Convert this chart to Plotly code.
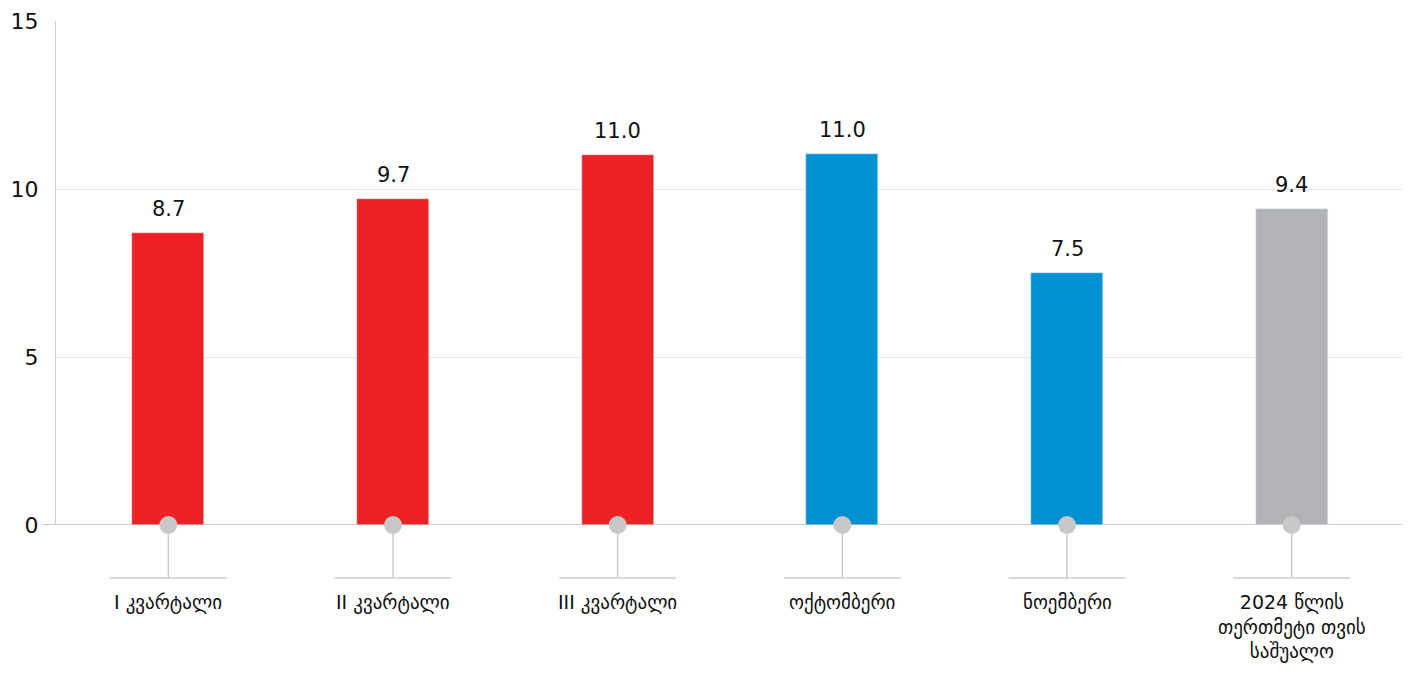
import plotly.graph_objects as go

categories = ["I კვარტალი", "II კვარტალი", "III კვარტალი", "ოქტომბერი", "ნოემბერი",
              "2024 წლის<br>თერთმეტი თვის<br>საშუალო"]
values = [8.7, 9.7, 11.0, 11.05, 7.5, 9.4]
value_labels = ["8.7", "9.7", "11.0", "11.0", "7.5", "9.4"]
colors = ["#ee2124", "#ee2124", "#ee2124", "#0091d5", "#0091d5", "#b1b3b6"]

FONT = "DejaVu Sans, Noto Sans, sans-serif"
H_PLOT = 504

fig = go.Figure()
fig.add_trace(go.Bar(
    x=list(range(len(categories))), y=values, marker_color=colors, width=0.32,
    hoverinfo="skip",
))
fig.add_trace(go.Scatter(
    x=list(range(len(categories))), y=[0] * len(categories), mode="markers",
    marker=dict(size=18, color="#c8c8c8"), cliponaxis=False, hoverinfo="skip",
))

drop = -53 / H_PLOT
for i, cat in enumerate(categories):
    fig.add_annotation(x=i, y=values[i], text=value_labels[i], showarrow=False,
                       yanchor="bottom", yshift=10, font=dict(size=21, color="#111"))
    fig.add_shape(type="line", xref="x", yref="paper", x0=i, x1=i, y0=-8 / H_PLOT, y1=drop,
                  line=dict(color="#cccccc", width=1.5))
    fig.add_shape(type="line", xref="x", yref="paper", x0=i - 0.26, x1=i + 0.26, y0=drop, y1=drop,
                  line=dict(color="#cccccc", width=1.5))
    fig.add_annotation(x=i, xref="x", y=-64 / H_PLOT, yref="paper", text=cat, showarrow=False,
                       yanchor="top", font=dict(size=19, color="#111", family=FONT))

fig.update_layout(
    width=1410, height=676, plot_bgcolor="white", paper_bgcolor="white",
    margin=dict(l=48, r=14, t=13, b=159, autoexpand=False), showlegend=False, bargap=0,
    font=dict(family=FONT, size=20, color="#111"),
    xaxis=dict(range=[-0.5, 5.5], showticklabels=False, showgrid=False, zeroline=False),
    yaxis=dict(range=[0, 15], tickvals=[0, 5, 10, 15], gridcolor="#e6e6e6", zeroline=False,
               showline=True, linecolor="#cccccc", ticks="", tickfont=dict(size=22),
               ticklabelstandoff=12),
)
fig.add_shape(type="line", xref="paper", yref="y", x0=-0.01, x1=1, y0=0, y1=0,
              line=dict(color="#bbbbbb", width=1.5), layer="below")
fig.write_html("out.html")
